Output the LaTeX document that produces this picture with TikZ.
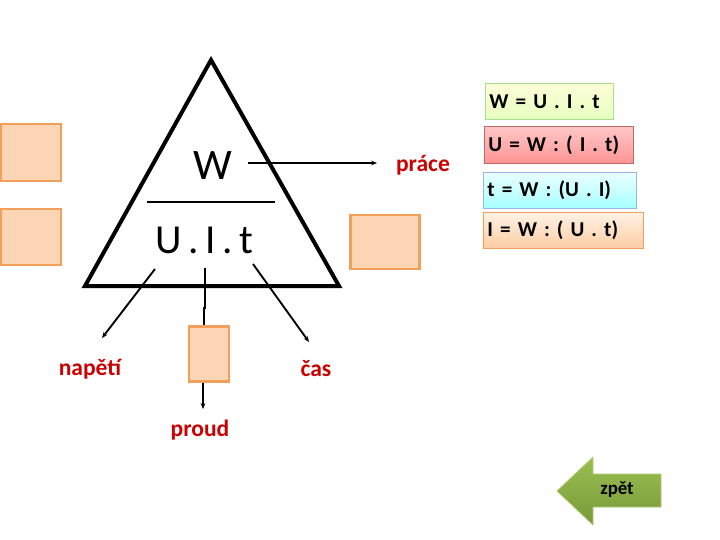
\documentclass[tikz,border=0pt]{standalone}
\usepackage{fontspec}
\setmainfont{Carlito}
\usetikzlibrary{arrows.meta}
\definecolor{boxfill}{HTML}{FCD5B4}
\definecolor{boxdraw}{HTML}{F0A05A}
\definecolor{redtxt}{HTML}{CC0000}
\definecolor{arrtop}{HTML}{9CBF52}
\definecolor{arrbot}{HTML}{76993A}
\tikzset{
  blank/.style={draw=boxdraw,line width=2.4pt,fill=boxfill},
  lbl/.style={text=redtxt,font=\fontsize{20}{24}\selectfont\bfseries,inner sep=0pt},
  conn/.style={line width=1.6pt,-{Stealth[length=5pt,width=4pt]}},
  formula/.style={line width=0.8pt,font=\fontsize{18}{21}\selectfont\bfseries,inner sep=0pt,align=left},
}
\begin{document}
\begin{tikzpicture}[x=0.85pt,y=-0.85pt]
\useasboundingbox (0,0) rectangle (720,540);
% triangle
\coordinate (apex) at (211,60);
\coordinate (bl) at (85,286);
\coordinate (br) at (339,286);
\draw[line width=3.4pt,line join=miter] (apex) -- (bl) -- (br) -- cycle;
\node[font=\fontsize{37}{40}\selectfont,inner sep=0pt] (W) at (213,166) {W};
\node[font=\fontsize{35}{40}\selectfont,inner sep=0pt] (UIt) at (204,240) {\spaceskip=0.16em U . I . t};
\coordinate (divL) at (147,202);
\coordinate (divR) at (275,202);
\draw[line width=1pt] (divL) -- (divR);
% prace
\node[lbl] (prace) at (423,165) {práce};
\coordinate (wS) at (248,163);
\coordinate (wE) at (377,163);
\draw[conn] (wS) -- (wE);
% blank boxes
\draw[blank] (1,124) rectangle (61,181);
\draw[blank] (1,209) rectangle (61,265);
\node[blank,minimum width=59pt,minimum height=46pt,inner sep=0pt] (boxR) at (385,242) {};
\node[blank,minimum width=34pt,minimum height=47pt,inner sep=0pt] (boxM) at (209,354) {};
% connectors from U.I.t
\coordinate (uS) at (155,269);
\coordinate (uE) at (102,338);
\draw[conn] (uS) -- (uE);
\coordinate (tS) at (253,264);
\coordinate (tE) at (309,342);
\draw[conn] (tS) -- (tE);
\coordinate (iS) at (205,268);
\draw[line width=1.6pt] (iS) -- (205,308) -- (204,308) -- (boxM.north -| 204,0);
\coordinate (iE) at (203,409);
\draw[conn] (boxM.south -| 203,0) -- (iE);
\node[lbl] (napeti) at (90,369) {napětí};
\node[lbl] (cas) at (316,369) {čas};
\node[lbl] (proud) at (200,430) {proud};
% formulas
\node[formula,draw=green!45!olive!45,top color=green!8!yellow!15,bottom color=green!40!yellow!25,
  minimum width=128*0.85pt,minimum height=36*0.85pt,anchor=north west,text width=120*0.85pt] (f1) at (485,83) {W = U . I . t};
\node[formula,draw=red!60!black!60,top color=red!22!white,bottom color=red!42!white,
  minimum width=149*0.85pt,minimum height=37*0.85pt,anchor=north west,text width=141*0.85pt] (f2) at (484,126) {U = W : ( I . t)};
\node[formula,draw=cyan!50!blue!40,top color=cyan!8,bottom color=cyan!35,
  minimum width=153*0.85pt,minimum height=36*0.85pt,anchor=north west,text width=145*0.85pt] (f3) at (483,172) {t = W : (U . I)};
\node[formula,draw=boxdraw,top color=orange!10,bottom color=boxfill!90!orange,
  minimum width=160*0.85pt,minimum height=36*0.85pt,anchor=north west,text width=152*0.85pt] (f4) at (483,212) {I = W : ( U . t)};
% back arrow
\coordinate (a1) at (557,491);
\draw[draw=arrtop!80!white,line width=0.6pt,top color=arrtop,bottom color=arrbot]
  (a1) -- (593,457) -- (593,474) -- (661,474) -- (661,507) -- (593,507) -- (593,525) -- cycle;
\node[font=\fontsize{16}{19}\selectfont\bfseries,inner sep=0pt] (zpet) at (617,490) {zpět};
\end{tikzpicture}
\end{document}
